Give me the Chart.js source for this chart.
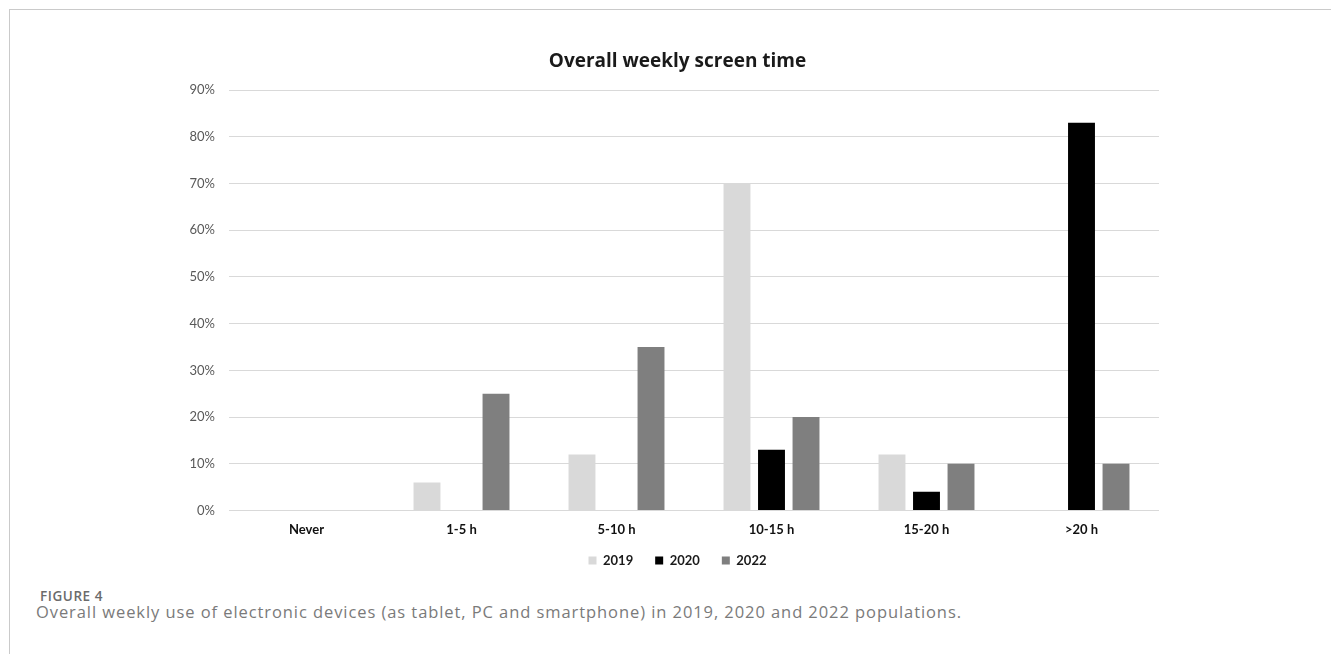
<!DOCTYPE html>
<html>
<head>
<meta charset="utf-8">
<script src="https://cdn.jsdelivr.net/npm/chart.js@4"></script>
<style>
  html, body { margin: 0; padding: 0; background: #fff; }
  body { width: 1331px; height: 654px; position: relative; overflow: hidden; }
  .frame {
    position: absolute; left: 9px; top: 9px; right: 0; bottom: 0;
    border-top: 1px solid #cacaca; border-left: 1px solid #cacaca;
  }
  .chart-box { position: absolute; left: 0; top: 0; width: 1331px; height: 577px; }
  .fig-label {
    position: absolute; left: 40px; top: 589.5px;
    font-family: "Open Sans", sans-serif; font-weight: 600; font-size: 13.5px;
    line-height: 13.5px; color: #6b6b6b; white-space: nowrap;
  }
  .fig-caption {
    position: absolute; left: 36px; top: 603.5px;
    font-family: "Open Sans", sans-serif; font-weight: 400; font-size: 16.5px;
    line-height: 16.5px; color: #7a7a7a; white-space: nowrap;
  }
</style>
</head>
<body>
<div class="frame"></div>
<div class="chart-box"><canvas id="screenTime"></canvas></div>
<div class="fig-label" id="figLabel">FIGURE 4</div>
<div class="fig-caption" id="caption">Overall weekly use of electronic devices (as tablet, PC and smartphone) in 2019, 2020 and 2022 populations.</div>
<script>
// Weekly screen-time bands and the share of each cohort (percent)
const categories = ['Never', '1-5 h', '5-10 h', '10-15 h', '15-20 h', '>20 h'];
const years = ['2019', '2020', '2022'];
const share2019 = [0, 6, 12, 70, 12, 0];
const share2020 = [0, 0, 0, 13, 4, 83];
const share2022 = [0, 25, 35, 20, 10, 10];
const yTickValues = [0, 10, 20, 30, 40, 50, 60, 70, 80, 90];

const barColors = ['#d9d9d9', '#000000', '#7f7f7f'];
const seriesValues = [share2019, share2020, share2022];

// Spread a caption line across a given width
function spreadTo(id, target) {
  const el = document.getElementById(id);
  const w = el.getBoundingClientRect().width;
  const n = el.textContent.length;
  el.style.letterSpacing = ((target - w) / n).toFixed(3) + 'px';
}
spreadTo('figLabel', 63);
spreadTo('caption', 926);

const chartFont = 'Lato, "Liberation Sans", sans-serif';

new Chart(document.getElementById('screenTime'), {
  type: 'bar',
  data: {
    labels: categories,
    datasets: years.map((y, i) => ({
      label: y,
      data: seriesValues[i],
      backgroundColor: barColors[i],
      borderWidth: 0,
      categoryPercentage: 0.668,
      barPercentage: 0.78
    }))
  },
  options: {
    responsive: true,
    maintainAspectRatio: false,
    animation: false,
    layout: { padding: { left: 186, right: 162, top: 0, bottom: 0 } },
    plugins: {
      title: {
        display: true,
        text: 'Overall weekly screen time',
        color: '#1a1a1a',
        font: { family: '"Open Sans", sans-serif', size: 19, weight: 'bold' },
        padding: { top: 50.6, bottom: 16.6 }
      },
      legend: {
        position: 'bottom',
        // empty title row pulls the legend entries up to sit just below the axis labels
        title: {
          display: true,
          text: '',
          font: { size: 10, lineHeight: 1 },
          padding: { top: -16.5, bottom: 0 }
        },
        labels: {
          color: '#1a1a1a',
          boxWidth: 8,
          boxHeight: 8,
          padding: 22,
          font: { family: chartFont, size: 13, weight: 'bold' }
        }
      },
      tooltip: { enabled: false }
    },
    scales: {
      x: {
        grid: { display: false, drawTicks: false },
        border: { display: false },
        ticks: {
          color: '#111',
          padding: 14.3,
          font: { family: chartFont, size: 13, weight: 'bold', lineHeight: 0.8 }
        },
        afterFit: (axis) => { axis.height = 28; }
      },
      y: {
        min: 0,
        max: 90,
        afterBuildTicks: (axis) => { axis.ticks = yTickValues.map(v => ({ value: v })); },
        grid: { color: '#d9d9d9', lineWidth: 1, drawTicks: false },
        border: { display: false },
        ticks: {
          color: '#595959',
          padding: 14,
          font: { family: chartFont, size: 13 },
          callback: (v) => v + '%'
        },
        afterFit: (axis) => { axis.width = 43; }
      },
      // empty right-hand margin axis
      yRight: {
        type: 'linear',
        position: 'right',
        display: true,
        grid: { display: false, drawTicks: false },
        border: { display: false },
        ticks: { display: false },
        afterFit: (axis) => { axis.width = 10; }
      }
    }
  }
});
</script>
</body>
</html>
